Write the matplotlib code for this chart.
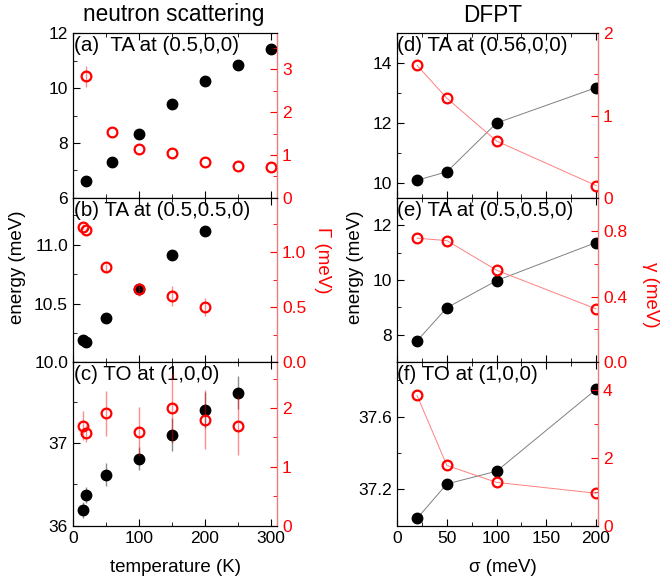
import numpy as np
import matplotlib.pyplot as plt
from matplotlib.ticker import MultipleLocator, FormatStrFormatter

plt.rcParams['font.family'] = ['Liberation Sans', 'DejaVu Sans']
plt.rcParams['font.size'] = 12.5

# ---- neutron scattering data ----
T_a = [20, 60, 100, 150, 200, 250, 300]
E_a = [6.6, 7.31, 8.33, 9.43, 10.24, 10.84, 11.44]
G_a = [2.83, 1.53, 1.14, 1.04, 0.83, 0.75, 0.73]
Gerr_a = [0.25, 0.0, 0.0, 0.0, 0.0, 0.0, 0.0]

T_b = [15, 20, 50, 100, 150, 200]
E_b = [10.19, 10.175, 10.38, 10.62, 10.91, 11.12]
G_b = [1.23, 1.20, 0.86, 0.66, 0.60, 0.50]
Gerr_b = [0.02, 0.02, 0.03, 0.06, 0.09, 0.08]

T_c = [15, 20, 50, 100, 150, 200, 250]
E_c = [36.19, 36.37, 36.62, 36.81, 37.10, 37.40, 37.61]
Eerr_c = [0.1, 0.1, 0.14, 0.14, 0.2, 0.22, 0.2]
G_c = [1.70, 1.57, 1.91, 1.60, 2.00, 1.80, 1.70]
Gerr_c = [0.25, 0.15, 0.38, 0.42, 0.6, 0.5, 0.5]

# ---- DFPT data ----
sigma = [20, 50, 100, 200]
E_d = [10.09, 10.37, 12.0, 13.18]
g_d = [1.61, 1.21, 0.69, 0.15]
E_e = [7.78, 8.99, 9.98, 11.37]
g_e = [0.755, 0.74, 0.56, 0.325]
E_f = [37.04, 37.23, 37.30, 37.75]
g_f = [3.85, 1.78, 1.28, 0.96]

W, H = 663, 582
fig = plt.figure(figsize=(W / 100, H / 100), dpi=100)

xl, wl = 0.110, 0.308
xr, wr = 0.599, 0.303
rows = [(0.660, 0.283), (0.3775, 0.2825), (0.0967, 0.281)]

red_err = (1, 0, 0, 0.45)
blk_err = (0, 0, 0, 0.45)
lab_fs = 14.8


def style(ax, tw, xmaj, xmin, ymaj, ymin, y2maj, y2min, bottom):
    ax.xaxis.set_major_locator(MultipleLocator(xmaj))
    ax.xaxis.set_minor_locator(MultipleLocator(xmin))
    ax.yaxis.set_major_locator(MultipleLocator(ymaj))
    ax.yaxis.set_minor_locator(MultipleLocator(ymin))
    ax.tick_params(which='both', direction='in', top=True, right=False)
    ax.tick_params(which='major', length=5)
    ax.tick_params(which='minor', length=3)
    if not bottom:
        ax.tick_params(labelbottom=False)
    tw.yaxis.set_major_locator(MultipleLocator(y2maj))
    tw.yaxis.set_minor_locator(MultipleLocator(y2min))
    tw.tick_params(which='both', direction='in', colors='red')
    tw.tick_params(which='major', length=5)
    tw.tick_params(which='minor', length=3)
    tw.spines['right'].set_color((1, 0.45, 0.45))


def panel(x, w, row, xs, E, G, Eerr=None, Gerr=None, lines=False):
    ax = fig.add_axes([x, rows[row][0], w, rows[row][1]])
    tw = ax.twinx()
    if lines:
        ax.plot(xs, E, '-', color='gray', lw=0.7)
        tw.plot(xs, G, '-', color=(1, 0.5, 0.5), lw=0.7)
    ax.errorbar(xs, E, yerr=Eerr, fmt='o', color='black', ms=7.5,
                ecolor=blk_err, elinewidth=1, capsize=0)
    tw.errorbar(xs, G, yerr=Gerr, fmt='o', color='red', mfc='none', ms=7,
                mew=1.6, ecolor=red_err, elinewidth=1, capsize=0)
    return ax, tw


def ftext(px, py, s, **kw):
    fig.text(px / W, 1 - py / H, s, ha='center', va='center', **kw)


# (a)
ax, tw = panel(xl, wl, 0, T_a, E_a, G_a, Gerr=Gerr_a)
ax.set_xlim(0, 310); ax.set_ylim(6, 12); tw.set_ylim(0, 3.84)
style(ax, tw, 100, 50, 2, 1, 1, 0.5, False)
ax.text(0.005, 0.98, '(a)  TA at (0.5,0,0)', transform=ax.transAxes, va='top', ha='left', fontsize=lab_fs)

# (b)
ax, tw = panel(xl, wl, 1, T_b, E_b, G_b, Gerr=Gerr_b)
ax.set_xlim(0, 310); ax.set_ylim(10.0, 11.4); tw.set_ylim(0, 1.49)
style(ax, tw, 100, 50, 0.5, 0.25, 0.5, 0.25, False)
ax.yaxis.set_major_formatter(FormatStrFormatter('%.1f'))
tw.yaxis.set_major_formatter(FormatStrFormatter('%.1f'))
ax.text(0.005, 0.98, '(b) TA at (0.5,0.5,0)', transform=ax.transAxes, va='top', ha='left', fontsize=lab_fs)

# (c)
ax, tw = panel(xl, wl, 2, T_c, E_c, G_c, Eerr=Eerr_c, Gerr=Gerr_c)
ax.set_xlim(0, 310); ax.set_ylim(36, 37.98); tw.set_ylim(0, 2.78)
style(ax, tw, 100, 50, 1, 0.5, 1, 0.5, True)
ax.text(0.005, 0.98, '(c) TO at (1,0,0)', transform=ax.transAxes, va='top', ha='left', fontsize=lab_fs)

# (d)
ax, tw = panel(xr, wr, 0, sigma, E_d, g_d, lines=True)
ax.set_xlim(0, 202); ax.set_ylim(9.5, 15); tw.set_ylim(0, 2)
style(ax, tw, 50, 25, 2, 1, 1, 0.5, False)
ax.text(0.0, 0.98, '(d) TA at (0.56,0,0)', transform=ax.transAxes, va='top', ha='left', fontsize=lab_fs)

# (e)
ax, tw = panel(xr, wr, 1, sigma, E_e, g_e, lines=True)
ax.set_xlim(0, 202); ax.set_ylim(7, 13); tw.set_ylim(0, 1)
style(ax, tw, 50, 25, 2, 1, 0.4, 0.2, False)
tw.yaxis.set_major_formatter(FormatStrFormatter('%.1f'))
ax.text(0.0, 0.98, '(e) TA at (0.5,0.5,0)', transform=ax.transAxes, va='top', ha='left', fontsize=lab_fs)

# (f)
ax, tw = panel(xr, wr, 2, sigma, E_f, g_f, lines=True)
ax.set_xlim(0, 202); ax.set_ylim(37.0, 37.9); tw.set_ylim(0, 4.83)
style(ax, tw, 50, 25, 0.4, 0.2, 2, 1, True)
ax.text(0.0, 0.98, '(f) TO at (1,0,0)', transform=ax.transAxes, va='top', ha='left', fontsize=lab_fs)

# titles and axis labels
ftext(174, 15, 'neutron scattering', fontsize=16.3)
ftext(493, 15, 'DFPT', fontsize=16.3)
ftext(175, 568, 'temperature (K)', fontsize=13.5)
ftext(503, 568, 'σ (meV)', fontsize=13.5)
ftext(18, 267, 'energy (meV)', fontsize=13.5, rotation=90)
ftext(355, 267, 'energy (meV)', fontsize=13.5, rotation=90)
ftext(322, 260, 'Γ (meV)', fontsize=13.5, rotation=270, color='red')
ftext(650, 295, 'γ (meV)', fontsize=13.5, rotation=270, color='red')

fig.savefig('out.png', dpi=100)
